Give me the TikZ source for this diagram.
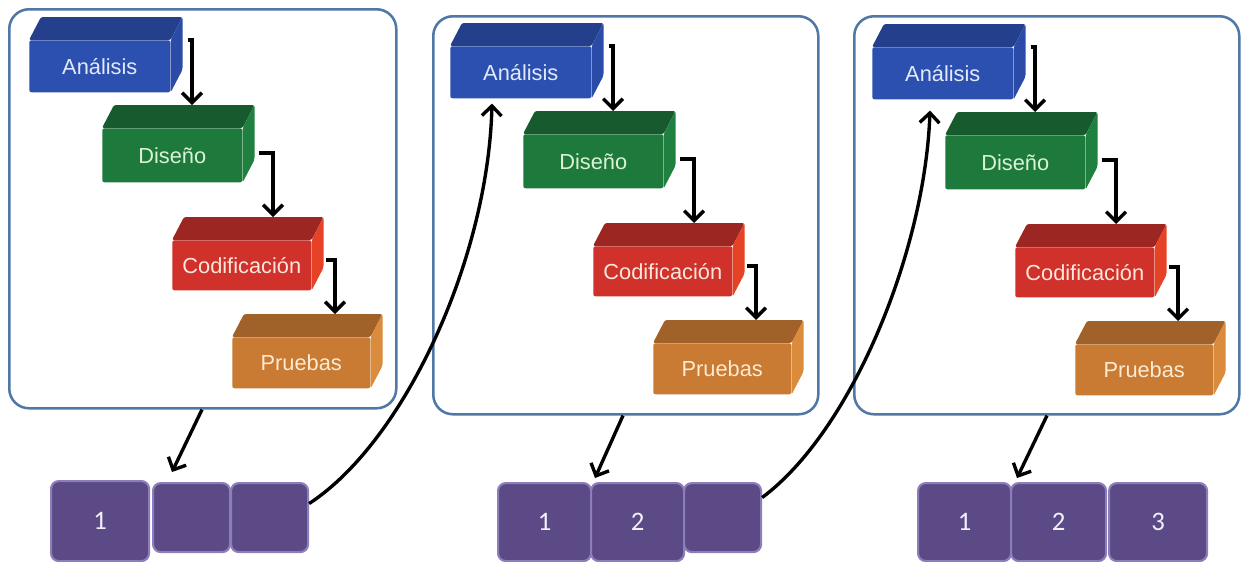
\documentclass[tikz,border=0pt]{standalone}
\usepackage{fontspec}
\setmainfont{Liberation Sans}
\newfontfamily\cellfont{Carlito}
\usetikzlibrary{calc,arrows.meta}

\definecolor{frameblue}{HTML}{4F78A6}
\definecolor{aFront}{HTML}{2B50B0}
\definecolor{aTop}{HTML}{243F8C}
\definecolor{aSide}{HTML}{2A4CA8}
\definecolor{aText}{HTML}{E2EAFA}
\definecolor{dFront}{HTML}{1E7A3C}
\definecolor{dTop}{HTML}{175A2D}
\definecolor{dSide}{HTML}{1F803F}
\definecolor{dText}{HTML}{DAF3D6}
\definecolor{cFront}{HTML}{D0312A}
\definecolor{cTop}{HTML}{9C2621}
\definecolor{cSide}{HTML}{E64226}
\definecolor{cText}{HTML}{FDE6DC}
\definecolor{pFront}{HTML}{C97A33}
\definecolor{pTop}{HTML}{A1622A}
\definecolor{pSide}{HTML}{DA8B3C}
\definecolor{pText}{HTML}{FCEBD3}
\definecolor{cellFill}{HTML}{5C4A86}
\definecolor{cellEdge}{HTML}{8E7DBB}
\definecolor{cellText}{HTML}{F2F0F8}

% one drawing unit
\newcommand\pu{0.025cm}

\tikzset{
  frontface/.style={inner sep=0pt, anchor=north west, rounded corners=1.5pt,
    font=\fontsize{15.5}{18}\selectfont},
  flow/.style={line width=2.4pt, -{Straight Barb[length=7pt,width=14pt]}},
  panelframe/.style={draw=frameblue, line width=1.8pt, rounded corners=14pt,
    fill=white, inner sep=0pt, anchor=north west},
  cellbox/.style={draw=cellEdge, fill=cellFill, line width=1.5pt,
    rounded corners=5.5pt, inner sep=0pt, anchor=north west, text=cellText,
    font=\cellfont\fontsize{19}{22}\selectfont},
}

% 3D block: name, x, y, width, height, colour prefix, label
\newcommand\block[7]{%
  \node[frontface, fill=#6Front, text=#6Text,
        minimum width={#4*\pu}, minimum height={#5*\pu}] (#1) at (#2,#3) {#7};
  \fill[#6Top, rounded corners=1.5pt] (#1.north west) -- ++(12,-23)
     -- ([shift={(12,-23)}]#1.north east) -- (#1.north east) -- cycle;
  \fill[#6Side, rounded corners=1.5pt] (#1.north east)
     -- ([shift={(12,-23)}]#1.north east)
     -- ([shift={(12,-23)}]#1.south east) -- (#1.south east) -- cycle;
}

% waterfall of four phases, shifted by (#2,#3)
\newcommand\phases[3]{%
  \begin{scope}[shift={(#2,#3)}]
    \block{#1A}{29}{40}{141}{52}{a}{Análisis}
    \block{#1D}{102}{128}{140}{54}{d}{Diseño}
    \block{#1C}{172}{240}{139}{50}{c}{Codificación}
    \block{#1P}{232}{337}{138}{51}{p}{Pruebas}
    \draw[flow] ([shift={(17,0)}]#1A.north east) -| ([shift={(90,-23)}]#1D.north west);
    \draw[flow] ([shift={(16,25)}]#1D.north east) -| ([shift={(101,-23)}]#1C.north west);
    \draw[flow] ([shift={(14,20)}]#1C.north east) -| ([shift={(103,-23)}]#1P.north west);
  \end{scope}
}

\begin{document}
\begin{tikzpicture}[x=\pu, y=-\pu]
  \useasboundingbox[fill=white] (0,0) rectangle (1242,561);

  % panels
  \node[panelframe, minimum width={387*\pu}, minimum height={399*\pu}] (F1) at (8,8) {};
  \node[panelframe, minimum width={385*\pu}, minimum height={398*\pu}] (F2) at (432,15) {};
  \node[panelframe, minimum width={385*\pu}, minimum height={398*\pu}] (F3) at (853,15) {};

  \phases{s1}{0}{0}
  \phases{s2}{421}{6}
  \phases{s3}{843}{7}

  % increments
  \node[cellbox, minimum width={98*\pu}, minimum height={80*\pu}] (q1a) at (50,480) {1};
  \node[cellbox, minimum width={77*\pu}, minimum height={69*\pu}] (q1b) at (152,482) {};
  \node[cellbox, minimum width={77*\pu}, minimum height={69*\pu}] (q1c) at (230,482) {};

  \node[cellbox, minimum width={93*\pu}, minimum height={78*\pu}] (q2a) at (497,482) {1};
  \node[cellbox, minimum width={93*\pu}, minimum height={78*\pu}] (q2b) at (590,482) {2};
  \node[cellbox, minimum width={77*\pu}, minimum height={69*\pu}] (q2c) at (683,482) {};

  \node[cellbox, minimum width={93*\pu}, minimum height={78*\pu}] (q3a) at (917,482) {1};
  \node[cellbox, minimum width={95*\pu}, minimum height={78*\pu}] (q3b) at (1010,482) {2};
  \node[cellbox, minimum width={98*\pu}, minimum height={78*\pu}] (q3c) at (1108,482) {3};

  % results delivered by each panel
  \draw[flow] ([shift={(194,0)}]F1.south west) -- ([shift={(20,-10)}]q1b.north west);
  \draw[flow] ([shift={(191,0)}]F2.south west) -- ([shift={(5,-4)}]q2b.north west);
  \draw[flow] ([shift={(194,0)}]F3.south west) -- ([shift={(7,-4)}]q3b.north west);

  % feedback into the next iteration
  \draw[flow] ([shift={(0,-14)}]q1c.east)
     .. controls +(95,-62) and +(-4,156) .. ([shift={(42,5)}]s2A.south west);
  \draw[flow] ([shift={(0,-20)}]q2c.east)
     .. controls +(90,-67) and +(-5,140) .. ([shift={(58,11)}]s3A.south west);
\end{tikzpicture}
\end{document}
